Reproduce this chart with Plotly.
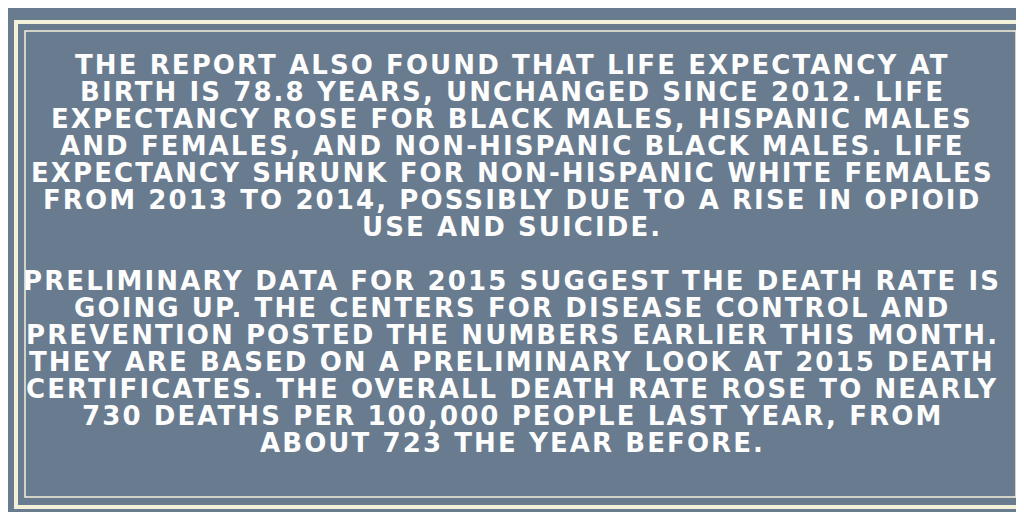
import plotly.graph_objects as go

# text of the card, one entry per printed line
para_one = [
    "THE REPORT ALSO FOUND THAT LIFE EXPECTANCY AT",
    "BIRTH IS 78.8 YEARS, UNCHANGED SINCE 2012. LIFE",
    "EXPECTANCY ROSE FOR BLACK MALES, HISPANIC MALES",
    "AND FEMALES, AND NON-HISPANIC BLACK MALES. LIFE",
    "EXPECTANCY SHRUNK FOR NON-HISPANIC WHITE FEMALES",
    "FROM 2013 TO 2014, POSSIBLY DUE TO A RISE IN OPIOID",
    "USE AND SUICIDE.",
]
para_two = [
    "PRELIMINARY DATA FOR 2015 SUGGEST THE DEATH RATE IS",
    "GOING UP. THE CENTERS FOR DISEASE CONTROL AND",
    "PREVENTION POSTED THE NUMBERS EARLIER THIS MONTH.",
    "THEY ARE BASED ON A PRELIMINARY LOOK AT 2015 DEATH",
    "CERTIFICATES. THE OVERALL DEATH RATE ROSE TO NEARLY",
    "730 DEATHS PER 100,000 PEOPLE LAST YEAR, FROM",
    "ABOUT 723 THE YEAR BEFORE.",
]

W, H = 1024, 512
bg = "#687b8f"
cream = "#f3f1da"

lines = para_one + [""] + para_two
pitch = 27.0
first_y = 57
center_x = 504

fig = go.Figure()

annots = []
for i, txt in enumerate(lines):
    if not txt:
        continue
    annots.append(dict(
        x=center_x, y=first_y + i * pitch, xref="x", yref="y",
        text='<span style="letter-spacing:2.1px">' + txt + '</span>',
        showarrow=False, xanchor="center", yanchor="middle",
        font=dict(family="DejaVu Sans", size=26, color="#fdfdfd", weight="bold"),
    ))

shapes = [
    # outer thick frame
    dict(type="rect", xref="x", yref="y", x0=8, y0=14, x1=1017, y1=499,
         line=dict(color=cream, width=4)),
    # inner thin frame
    dict(type="rect", xref="x", yref="y", x0=17, y0=23, x1=1008, y1=489,
         line=dict(color=cream, width=1.5)),
]

fig.update_layout(
    width=W, height=H,
    margin=dict(l=0, r=0, t=0, b=0),
    paper_bgcolor=bg, plot_bgcolor=bg,
    xaxis=dict(range=[0, W], visible=False, fixedrange=True),
    yaxis=dict(range=[H, 0], visible=False, fixedrange=True),
    annotations=annots,
    shapes=shapes,
    showlegend=False,
)

fig.write_html("out.html", config={"displayModeBar": False})
